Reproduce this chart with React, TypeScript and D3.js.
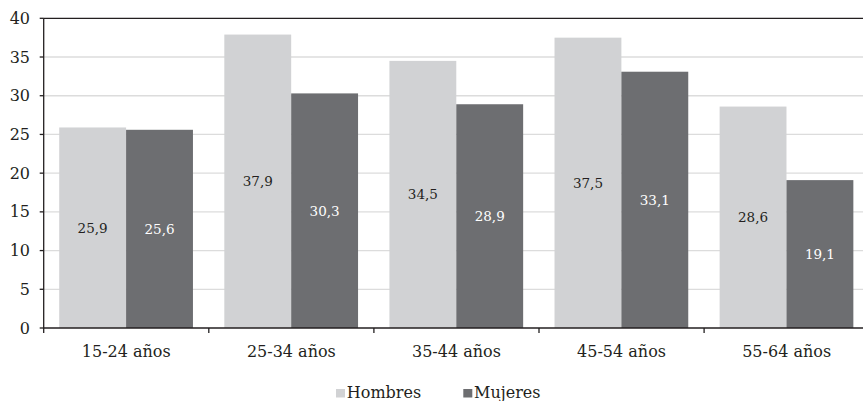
import React from "react";
import * as d3 from "d3";

const categories = ["15-24 años", "25-34 años", "35-44 años", "45-54 años", "55-64 años"];
const series = ["Hombres", "Mujeres"];
const hombres = [25.9, 37.9, 34.5, 37.5, 28.6];
const mujeres = [25.6, 30.3, 28.9, 33.1, 19.1];
const yTicks = [0, 5, 10, 15, 20, 25, 30, 35, 40];

const W = 863;
const H = 401;
const left = 43.7;
const right = 869.2;
const top = 18.3;
const bottom = 328;
const colors = ["#d1d2d4", "#6d6e71"];
const textColors = ["#231f20", "#ffffff"];
const FONT = "'DejaVu Serif', serif";

const fmt = (v: number) => v.toFixed(1).replace(".", ",");

export default function App() {
  const x = d3.scaleBand<string>().domain(categories).range([left, right]).paddingInner(0).paddingOuter(0);
  const bw = x.bandwidth();
  const inner = d3.scaleBand<string>().domain(series).range([bw * 0.094, bw * 0.904]);
  const y = d3.scaleLinear().domain([0, 40]).range([bottom, top]);
  const data = [hombres, mujeres];
  const bounds = categories.map((c) => x(c) as number).concat([right]);

  return (
    <svg
      width={W}
      height={H}
      style={{ position: "absolute", left: 0, top: 0, display: "block", background: "#fff" }}
      fontFamily={FONT}
    >
      {yTicks.filter((t) => t > 0 && t < 40).map((t) => (
        <line key={"g" + t} x1={left} x2={right} y1={y(t)} y2={y(t)} stroke="#dcdcdc" strokeWidth={1.3} />
      ))}
      {categories.map((c, i) =>
        series.map((s, j) => {
          const v = data[j][i];
          const bx = (x(c) as number) + (inner(s) as number);
          return (
            <g key={c + s}>
              <rect x={bx} y={y(v)} width={inner.bandwidth()} height={y(0) - y(v)} fill={colors[j]} />
              <text
                x={bx + inner.bandwidth() / 2}
                y={(y(v) + y(0)) / 2 + 5}
                textAnchor="middle"
                fontSize={13.5}
                fill={textColors[j]}
              >
                {fmt(v)}
              </text>
            </g>
          );
        })
      )}
      <line x1={left} x2={right} y1={top} y2={top} stroke="#231f20" strokeWidth={1.3} />
      <line x1={left} x2={left} y1={top} y2={bottom} stroke="#231f20" strokeWidth={1.3} />
      <line x1={left} x2={right} y1={bottom} y2={bottom} stroke="#231f20" strokeWidth={1.3} />
      {yTicks.map((t) => (
        <g key={"t" + t}>
          <line x1={left - 4} x2={left} y1={y(t)} y2={y(t)} stroke="#231f20" strokeWidth={1.3} />
          <text x={30} y={y(t) + 5.5} textAnchor="end" fontSize={16} fill="#231f20">
            {t}
          </text>
        </g>
      ))}
      {bounds.map((b, i) => (
        <line key={"xt" + i} x1={b} x2={b} y1={bottom} y2={bottom + 5} stroke="#231f20" strokeWidth={1.3} />
      ))}
      {categories.map((c) => (
        <text key={"xl" + c} x={(x(c) as number) + bw / 2} y={357} textAnchor="middle" fontSize={16} fill="#231f20">
          {c}
        </text>
      ))}
      {series.map((s, j) => {
        const lx = j === 0 ? 336 : 463.3;
        return (
          <g key={"lg" + s}>
            <rect x={lx} y={389} width={9} height={8.5} fill={colors[j]} />
            <text x={lx + 10.8} y={397.5} fontSize={16} fill="#231f20">
              {s}
            </text>
          </g>
        );
      })}
    </svg>
  );
}
